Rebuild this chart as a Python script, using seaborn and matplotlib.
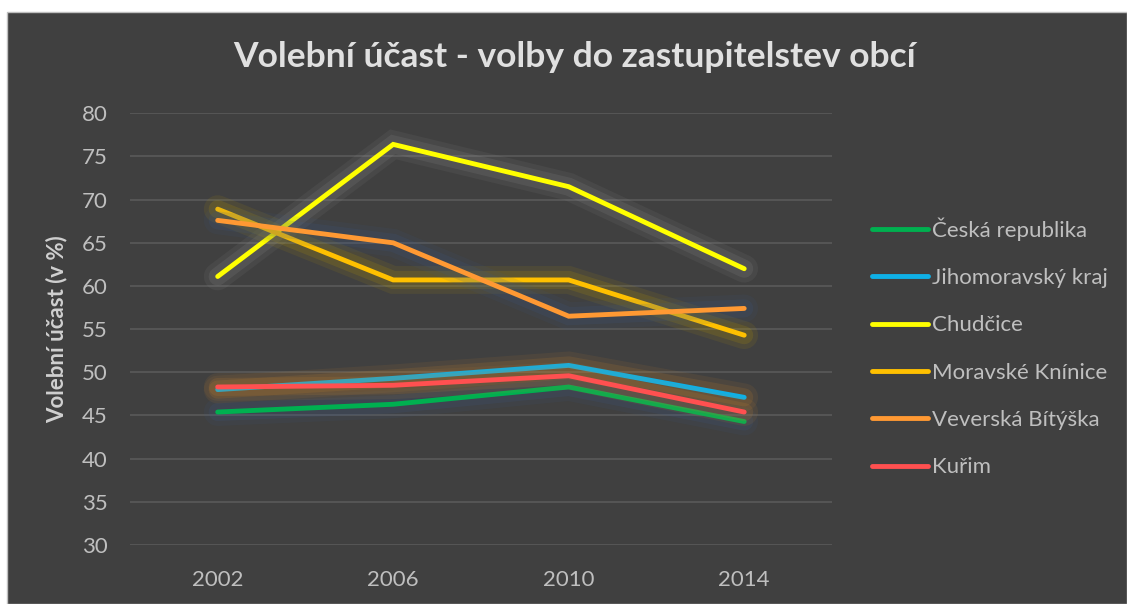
import matplotlib
matplotlib.use("Agg")
import matplotlib.pyplot as plt
import matplotlib.patheffects as pe
from matplotlib.lines import Line2D
from matplotlib.patches import Rectangle
import pandas as pd
import seaborn as sns

# Data
years = ["2002", "2006", "2010", "2014"]
ceska_republika = [45.4, 46.3, 48.3, 44.3]
jihomoravsky_kraj = [48.0, 49.3, 50.8, 47.1]
chudcice = [61.1, 76.4, 71.5, 62.0]
moravske_knince = [68.9, 60.7, 60.7, 54.3]
veverska_bityska = [67.6, 65.0, 56.5, 57.4]
kurim = [48.3, 48.5, 49.6, 45.4]

series_names = ["Česká republika", "Jihomoravský kraj", "Chudčice",
                "Moravské Knínice", "Veverská Bítýška", "Kuřim"]
series_values = [ceska_republika, jihomoravsky_kraj, chudcice,
                 moravske_knince, veverska_bityska, kurim]
colors = ["#00B050", "#0FB0E6", "#FFFF00", "#FFC000", "#FF9933", "#FF5050"]
glow_colors = ["#3A5A8A", "#C08030", "#909090", "#C0A000", "#3A5A8A", "#C08030"]

rows = []
for name, vals in zip(series_names, series_values):
    for yr, v in zip(years, vals):
        rows.append({"Rok": yr, "Účast": v, "Obec": name})
df = pd.DataFrame(rows)

sns.set_theme(style="dark")
plt.rcParams["font.family"] = ["Lato", "DejaVu Sans"]

bg = "#404040"
fig = plt.figure(figsize=(11.27, 6.04), dpi=100, facecolor="white")
fig.patches.append(Rectangle((7 / 1127, 0), 1 - 7 / 1127, 1 - 12 / 604,
                             transform=fig.transFigure, facecolor=bg,
                             edgecolor="#BFBFBF", linewidth=1, zorder=-10))
ax = fig.add_axes([0.1153, 0.0977, 0.6229, 0.7147])
ax.set_facecolor(bg)

sns.lineplot(data=df, x="Rok", y="Účast", hue="Obec", hue_order=series_names,
             palette=colors, linewidth=3.5, sort=False, legend=False, ax=ax)

# soft glow around each line, as in the original
for line, gc in zip(ax.get_lines(), glow_colors):
    line.set_solid_capstyle("round")
    line.set_solid_joinstyle("miter")
    line.set_path_effects([
        pe.Stroke(linewidth=20, foreground=gc, alpha=0.10),
        pe.Stroke(linewidth=13, foreground=gc, alpha=0.16),
        pe.Normal(),
    ])

ax.set_xlim(-0.5, 3.5)
ax.set_ylim(30, 80)
ax.set_yticks(range(30, 81, 5))
ax.grid(axis="y", color="#5A5A5A", linewidth=1.2)
ax.grid(axis="x", visible=False)
for s in ax.spines.values():
    s.set_visible(False)
ax.tick_params(axis="both", colors="#BFBFBF", labelsize=16, length=0)
ax.tick_params(axis="y", pad=16)
ax.tick_params(axis="x", pad=18)
ax.set_xlabel("")
ax.set_ylabel("Volební účast (v %)", color="#D0D0D0", fontsize=16,
              fontweight="bold")
ax.yaxis.set_label_coords(-0.089, 0.5)

fig.text(0.51, 0.906, "Volební účast - volby do zastupitelstev obcí",
         ha="center", va="center", color="#E0E0E0", fontsize=25.5,
         fontweight="bold")

handles = [Line2D([0], [0], color=c, linewidth=3.5, solid_capstyle="round")
           for c in colors]
fig.legend(handles, series_names, loc="upper left",
           bbox_to_anchor=(0.756, 0.6735), frameon=False, fontsize=16,
           labelcolor="#BFBFBF", handlelength=2.5, handletextpad=0.22,
           labelspacing=1.23)

fig.savefig("out.png", dpi=100, facecolor=fig.get_facecolor())
